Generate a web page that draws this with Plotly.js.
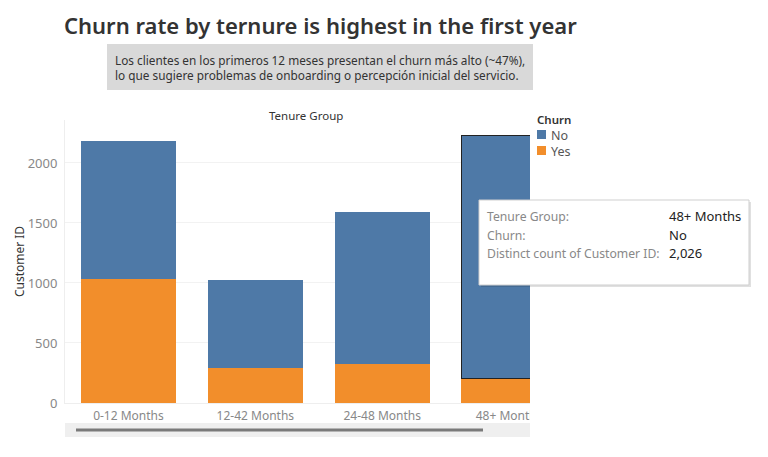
<!DOCTYPE html>
<html><head><meta charset="utf-8">
<script src="https://cdn.plot.ly/plotly-3.0.1.min.js"></script>
<style>html,body{margin:0;padding:0;background:#fff}#chart{width:768px;height:457px}</style>
</head><body><div id="chart"></div>
<script>
const categories = ["0-12 Months", "12-42 Months", "24-48 Months", "48+ Months"];
const churnNo = [1149, 730, 1267, 2026];
const churnYes = [1037, 294, 325, 205];
const yTicks = [0, 500, 1000, 1500, 2000];

const FONT = "Noto Sans, Open Sans, sans-serif";
const BLUE = "#4e79a7", ORANGE = "#f28e2b";

const traces = [
  {type: "bar", name: "Yes", x: categories, y: churnYes, marker: {color: ORANGE}, showlegend: false, hoverinfo: "none"},
  {type: "bar", name: "No", x: categories, y: churnNo,
   marker: {color: BLUE, line: {color: "#222", width: [0, 0, 0, 1.2]}}, showlegend: false, hoverinfo: "none"}
];

// helpers to place things by pixel (plot area: x 65..530, y 120..403)
const px = x => (x - 65) / 465;
const py = y => (403 - y) / 283;

const layout = {
  width: 768, height: 457,
  margin: {l: 65, r: 238, t: 120, b: 54},
  barmode: "stack", bargap: 0.25,
  paper_bgcolor: "#fff", plot_bgcolor: "#fff",
  font: {family: FONT, color: "#333"},
  xaxis: {type: "category", range: [-0.5, 3.165], showgrid: false, zeroline: false,
          showline: true, linecolor: "#eeeeee", ticks: "", tickfont: {size: 12, color: "#888"}, ticklabelstandoff: 2},
  yaxis: {range: [0, 2358], tickvals: yTicks, ticktext: yTicks.map(String), showgrid: true, gridcolor: "#f2f2f2",
          zeroline: false, showline: true, linecolor: "#eeeeee", ticks: "", tickfont: {size: 13, color: "#888"},
          ticklabelstandoff: 4,
          title: {text: "Customer ID", font: {size: 12, color: "#333"}, standoff: 0}},
  shapes: [
    // clip the last x tick label at the view edge
    {type: "rect", xref: "paper", yref: "paper", x0: px(530), x1: px(575), y0: py(422), y1: py(404),
     fillcolor: "#fff", line: {width: 0}},
    // subtitle box
    {type: "rect", xref: "paper", yref: "paper", layer: "below",
     x0: px(107), x1: px(533), y0: py(90), y1: py(44), fillcolor: "#d9d9d9", line: {width: 0}},
    // scrollbar track
    {type: "rect", xref: "paper", yref: "paper",
     x0: 0, x1: 1, y0: py(437), y1: py(423), fillcolor: "#efefef", line: {width: 0}},
    // scrollbar thumb
    {type: "line", xref: "paper", yref: "paper",
     x0: px(76), x1: px(483), y0: py(430), y1: py(430), line: {color: "#7a7a7a", width: 3}},
    // tooltip shadow
    {type: "rect", xref: "paper", yref: "paper",
     x0: px(481), x1: px(751), y0: py(287), y1: py(202), fillcolor: "rgba(0,0,0,0.12)", line: {width: 0}},
    // tooltip box
    {type: "rect", xref: "paper", yref: "paper",
     x0: px(479), x1: px(749), y0: py(285), y1: py(200), fillcolor: "#fff", line: {color: "#cfcfcf", width: 1}},
    // legend swatches
    {type: "rect", xref: "paper", yref: "paper",
     x0: px(537), x1: px(546), y0: py(139), y1: py(130), fillcolor: BLUE, line: {width: 0}},
    {type: "rect", xref: "paper", yref: "paper",
     x0: px(537), x1: px(546), y0: py(155), y1: py(146), fillcolor: ORANGE, line: {width: 0}}
  ],
  annotations: [
    {xref: "paper", yref: "paper", x: px(62), y: py(25), xanchor: "left", yanchor: "middle", showarrow: false,
     text: "Churn rate by ternure is highest in the first year", font: {size: 22, color: "#333", family: FONT, weight: 600}},
    {xref: "paper", yref: "paper", x: px(113), y: py(67), xanchor: "left", yanchor: "middle", showarrow: false, align: "left",
     text: "Los clientes en los primeros 12 meses presentan el churn más alto (~47%),<br>lo que sugiere problemas de onboarding o percepción inicial del servicio.",
     font: {size: 11.8, color: "#333"}},
    {xref: "paper", yref: "paper", x: px(306), y: py(115), xanchor: "center", yanchor: "middle", showarrow: false,
     text: "Tenure Group", font: {size: 11.5, color: "#333"}},
    {xref: "paper", yref: "paper", x: px(535), y: py(119), xanchor: "left", yanchor: "middle", showarrow: false,
     text: "Churn", font: {size: 11.5, color: "#333", weight: 600}},
    {xref: "paper", yref: "paper", x: px(549), y: py(135), xanchor: "left", yanchor: "middle", showarrow: false,
     text: "No", font: {size: 12.5, color: "#555"}},
    {xref: "paper", yref: "paper", x: px(549), y: py(151), xanchor: "left", yanchor: "middle", showarrow: false,
     text: "Yes", font: {size: 12.5, color: "#555"}},
    {xref: "paper", yref: "paper", x: px(485), y: py(216), xanchor: "left", yanchor: "middle", showarrow: false,
     text: "Tenure Group:", font: {size: 12.2, color: "#888"}},
    {xref: "paper", yref: "paper", x: px(485), y: py(235), xanchor: "left", yanchor: "middle", showarrow: false,
     text: "Churn:", font: {size: 12.2, color: "#888"}},
    {xref: "paper", yref: "paper", x: px(485), y: py(253), xanchor: "left", yanchor: "middle", showarrow: false,
     text: "Distinct count of Customer ID:", font: {size: 12.2, color: "#888"}},
    {xref: "paper", yref: "paper", x: px(667), y: py(216), xanchor: "left", yanchor: "middle", showarrow: false,
     text: categories[3], font: {size: 13, color: "#222"}},
    {xref: "paper", yref: "paper", x: px(667), y: py(235), xanchor: "left", yanchor: "middle", showarrow: false,
     text: "No", font: {size: 13, color: "#222"}},
    {xref: "paper", yref: "paper", x: px(667), y: py(253), xanchor: "left", yanchor: "middle", showarrow: false,
     text: churnNo[3].toLocaleString("en-US"), font: {size: 13, color: "#222"}}
  ]
};

Plotly.newPlot("chart", traces, layout, {displayModeBar: false, staticPlot: true});
</script>
</body></html>
